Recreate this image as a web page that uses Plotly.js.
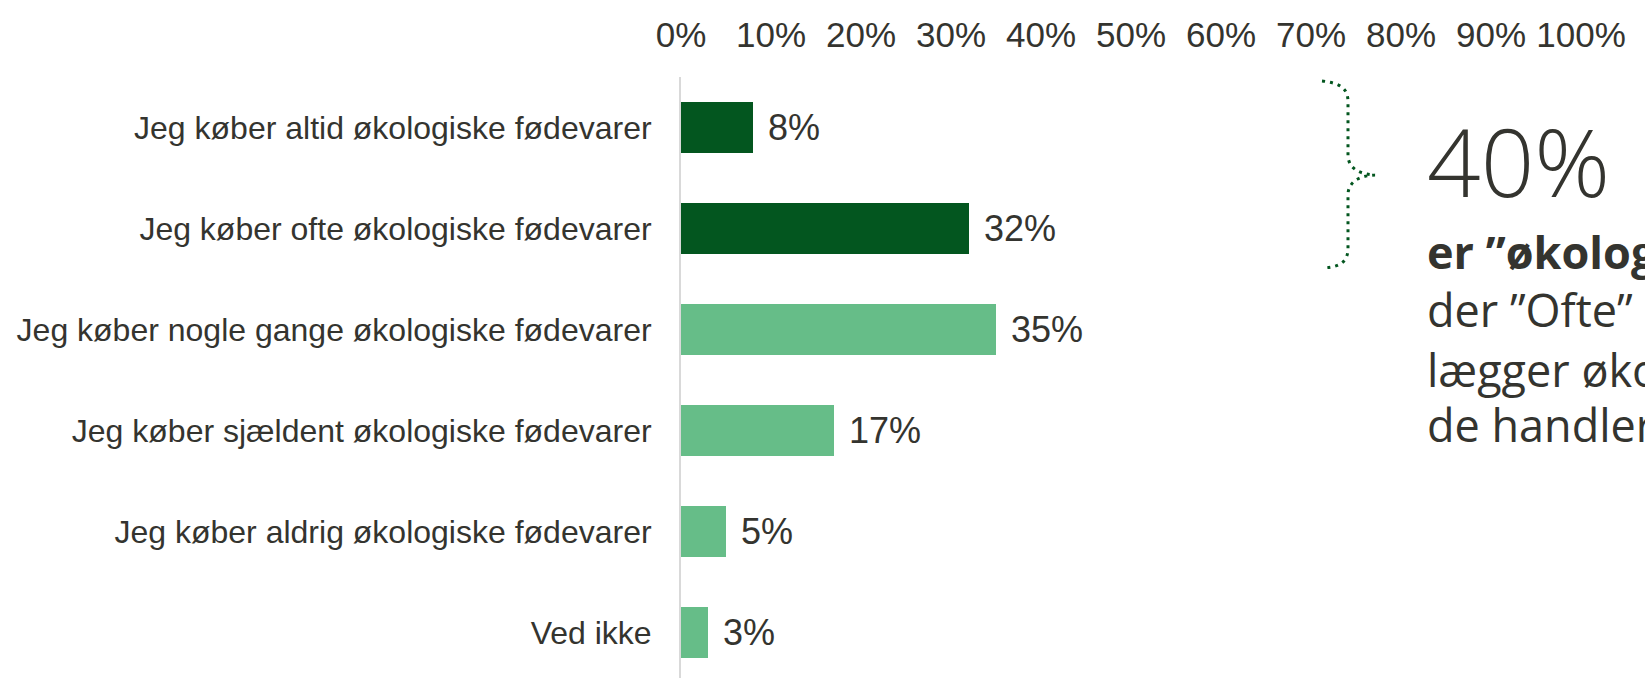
<!DOCTYPE html>
<html>
<head>
<meta charset="utf-8">
<script src="https://cdn.plot.ly/plotly-3.0.1.min.js"></script>
<style>html,body{margin:0;padding:0;background:#fff;}#chart{width:1645px;height:678px;}</style>
</head>
<body>
<div id="chart"></div>
<script>
const categories = [
  "Jeg køber altid økologiske fødevarer",
  "Jeg køber ofte økologiske fødevarer",
  "Jeg køber nogle gange økologiske fødevarer",
  "Jeg køber sjældent økologiske fødevarer",
  "Jeg køber aldrig økologiske fødevarer",
  "Ved ikke"
];
const values = [0.08, 0.32, 0.35, 0.17, 0.05, 0.03];
const barColors = ["#03561f", "#03561f", "#66bd88", "#66bd88", "#66bd88", "#66bd88"];
const tickValues = [0, 0.1, 0.2, 0.3, 0.4, 0.5, 0.6, 0.7, 0.8, 0.9, 1.0];
const bigNumber = "40%";
const sideLines = ["<b>er ”økolog</b>", "der ”Ofte”", "lægger øko", "de handler"];

const W = 1645, H = 678;
const M = {l: 681, r: 64, t: 77, b: 0};
const plotW = W - M.l - M.r, plotH = H - M.t - M.b;
const px = x => (x - M.l) / plotW;
const py = y => (H - M.b - y) / plotH;

const textColor = "#34342f";

const annotations = values.map((v, i) => ({
  x: v, y: categories[i], xref: "x", yref: "y",
  text: Math.round(v * 100) + "%",
  showarrow: false, xanchor: "left", yanchor: "middle", xshift: 13,
  font: {family: "Liberation Sans, Arial, sans-serif", size: 36, color: textColor}
}));

annotations.push({
  x: px(1425), y: py(161), xref: "paper", yref: "paper",
  text: bigNumber, showarrow: false, xanchor: "left", yanchor: "middle",
  font: {family: "Open Sans, sans-serif", size: 94, color: textColor, weight: 300}
});
const lineCenters = [252, 309, 369, 425];
sideLines.forEach((t, i) => {
  annotations.push({
    x: px(1425), y: py(lineCenters[i]), xref: "paper", yref: "paper",
    text: t, showarrow: false, xanchor: "left", yanchor: "middle",
    font: {family: "Open Sans, sans-serif", size: 45, color: textColor}
  });
});

// brace path in pixel coords, converted to paper
function P(x, y) { return px(x).toFixed(5) + "," + py(y).toFixed(5); }
const bracePath =
  "M" + P(1322, 81) +
  " C" + P(1340, 83) + " " + P(1348, 88) + " " + P(1348, 102) +
  " L" + P(1348, 155) +
  " C" + P(1348, 166) + " " + P(1356, 174) + " " + P(1375, 175) +
  " C" + P(1356, 176) + " " + P(1348, 184) + " " + P(1348, 195) +
  " L" + P(1348, 248) +
  " C" + P(1348, 262) + " " + P(1340, 267) + " " + P(1323, 268);

const trace = {
  type: "bar", orientation: "h",
  x: values, y: categories,
  marker: {color: barColors},
  width: 0.505,
  hoverinfo: "none",
  cliponaxis: false
};

const layout = {
  width: W, height: H,
  margin: M,
  paper_bgcolor: "#ffffff", plot_bgcolor: "#ffffff",
  showlegend: false,
  font: {family: "Liberation Sans, Arial, sans-serif", color: textColor},
  xaxis: {
    side: "top", range: [0, 1], tickvals: tickValues, tickformat: ".0%",
    showgrid: false, zeroline: false, showline: false, ticks: "",
    tickfont: {size: 35, color: textColor}, ticklabelstandoff: 22, fixedrange: true
  },
  yaxis: {
    type: "category", range: [5.45, -0.5],
    showgrid: false, zeroline: false, showline: true, linecolor: "#d9d9d9", linewidth: 2,
    ticks: "", tickfont: {size: 32, color: textColor}, ticklabelstandoff: 21, fixedrange: true
  },
  shapes: [{
    type: "path", xref: "paper", yref: "paper", path: bracePath,
    line: {color: "#03561f", width: 3, dash: "3px,5px"}
  }],
  annotations: annotations
};

Plotly.newPlot("chart", [trace], layout, {displayModeBar: false, staticPlot: true});
</script>
</body>
</html>
